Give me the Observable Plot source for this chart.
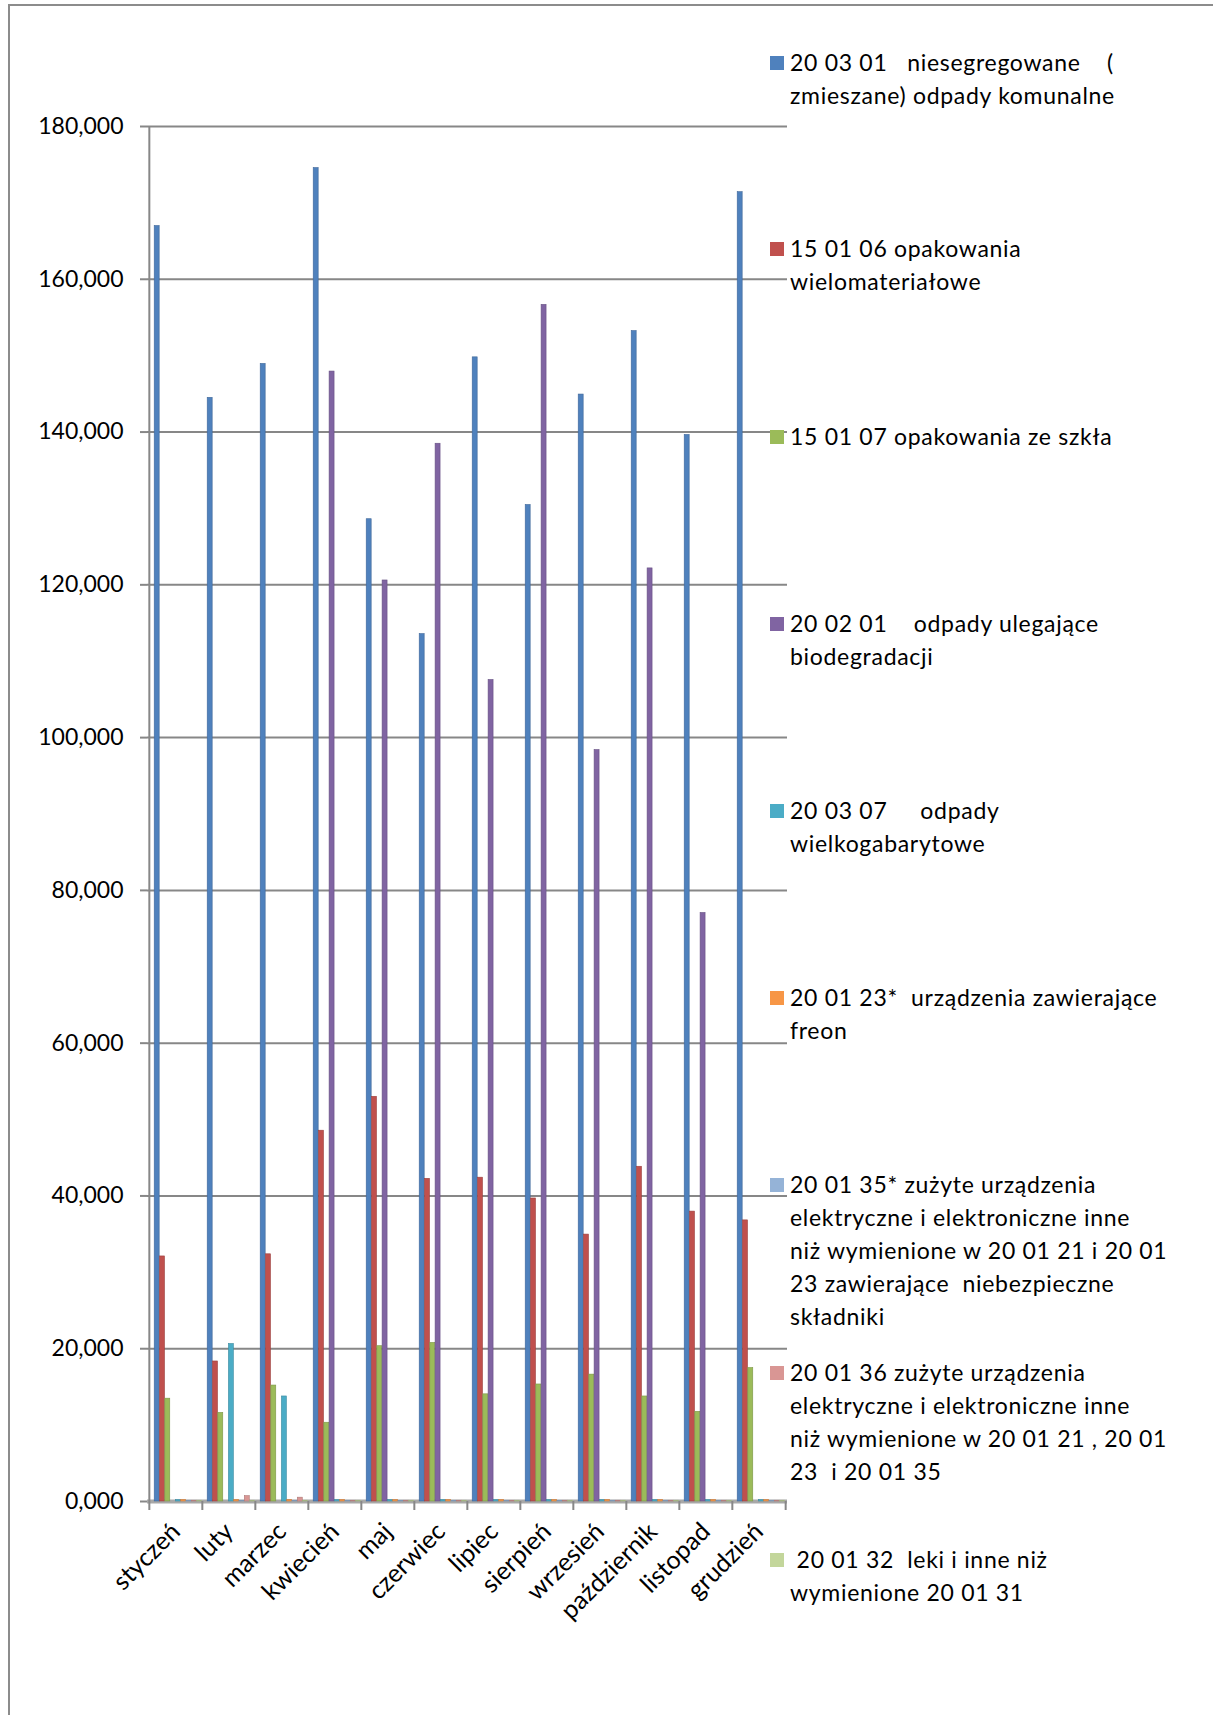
<!DOCTYPE html>
<html>
<head>
<meta charset="utf-8">
<script src="https://cdn.jsdelivr.net/npm/d3@7"></script>
<script src="https://cdn.jsdelivr.net/npm/@observablehq/plot@0.6"></script>
<style>
  html, body { margin: 0; padding: 0; background: #fff; }
  #page { position: relative; width: 1213px; height: 1715px; overflow: hidden; background: #fff; }
  #frame { position: absolute; left: 8px; top: 4px; width: 1300px; height: 1800px;
           border-left: 2px solid #8c8c8c; border-top: 2px solid #8c8c8c; }
  #chart { position: absolute; left: 0; top: 0; }
  #legend { position: absolute; left: 0; top: 0; font-family: Lato, "Open Sans", sans-serif;
            font-size: 23px; letter-spacing: 0.7px; line-height: 33px; color: #000; }
  .entry { position: absolute; left: 770px; white-space: pre; }
  .sw { position: absolute; left: 0; top: 10px; width: 14px; height: 14px; }
  .txt { position: absolute; left: 20px; top: 0; }
</style>
</head>
<body>
<div id="page">
  <div id="frame"></div>
  <div id="chart"></div>
  <div id="legend"></div>
</div>
<script>
// ---- data (values in Mg) ----
const months = ["styczeń","luty","marzec","kwiecień","maj","czerwiec","lipiec","sierpień","wrzesień","październik","listopad","grudzień"];

const seriesNames = [
  "20 03 01   niesegregowane    (\nzmieszane) odpady komunalne",
  "15 01 06 opakowania\nwielomateriałowe",
  "15 01 07 opakowania ze szkła",
  "20 02 01    odpady ulegające\nbiodegradacji",
  "20 03 07     odpady\nwielkogabarytowe",
  "20 01 23*  urządzenia zawierające\nfreon",
  "20 01 35* zużyte urządzenia\nelektryczne i elektroniczne inne\nniż wymienione w 20 01 21 i 20 01\n23 zawierające  niebezpieczne\nskładniki",
  "20 01 36 zużyte urządzenia\nelektryczne i elektroniczne inne\nniż wymienione w 20 01 21 , 20 01\n23  i 20 01 35",
  " 20 01 32  leki i inne niż\nwymienione 20 01 31"
];

const seriesColors = ["#4F81BD","#C0504D","#9BBB59","#8064A2","#4BACC6","#F79646","#95B3D7","#D99694","#C3D69B"];

const s200301 = [166.97, 144.48, 148.92, 174.56, 128.59, 113.55, 149.78, 130.45, 144.91, 153.22, 139.62, 171.40];
const s150106 = [32.08, 18.33, 32.36, 48.54, 52.98, 42.24, 42.39, 39.67, 34.94, 43.82, 37.95, 36.80];
const s150107 = [13.46, 11.60, 15.18, 10.31, 20.33, 20.76, 14.03, 15.32, 16.61, 13.75, 11.74, 17.47];
const s200201 = [0, 0, 0, 147.92, 120.57, 138.47, 107.54, 156.65, 98.37, 122.15, 77.04, 0];
const s200307 = [0.2, 20.62, 13.75, 0.2, 0.2, 0.2, 0.2, 0.2, 0.2, 0.2, 0.2, 0.2];
const s200123 = [0.2, 0.2, 0.2, 0.2, 0.2, 0.2, 0.2, 0.2, 0.2, 0.2, 0.2, 0.2];
const s200135 = [0.1, 0.1, 0.1, 0.1, 0.1, 0.1, 0.1, 0.1, 0.1, 0.1, 0.1, 0.1];
const s200136 = [0.1, 0.7, 0.5, 0.1, 0.1, 0.1, 0.1, 0.1, 0.1, 0.1, 0.1, 0.1];
const s200132 = [0.1, 0.1, 0.1, 0.1, 0.1, 0.1, 0.1, 0.1, 0.1, 0.1, 0.1, 0.1];

const seriesValues = [s200301, s150106, s150107, s200201, s200307, s200123, s200135, s200136, s200132];

const yTicks = [0, 20, 40, 60, 80, 100, 120, 140, 160, 180];

// ---- layout ----
const W = 1213, H = 1715;
const plotLeft = 147, plotRight = 787, plotTop = 126, plotBottom = 1501;
const bw = (plotRight - plotLeft) / months.length;
const groupLeft = 5.2, barW = 5.3;
const gridColor = "#878787";

const table = [];
seriesValues.forEach((vals, si) => vals.forEach((v, mi) => table.push({series: si, month: months[mi], value: v})));

const fmt = d => d.toFixed(3).replace(".", ",");

const barMarks = seriesValues.map((_, si) =>
  Plot.barY(table.filter(d => d.series === si), {
    x: "month", y: "value", fill: seriesColors[si],
    stroke: d3.color(seriesColors[si]).darker(0.6).formatHex(), strokeWidth: 0.6,
    insetLeft: groupLeft + si * barW,
    insetRight: bw - groupLeft - (si + 1) * barW
  })
);

const chart = Plot.plot({
  width: W, height: H,
  marginLeft: plotLeft, marginRight: W - plotRight, marginTop: plotTop, marginBottom: H - plotBottom,
  x: {domain: months, padding: 0, label: null},
  y: {domain: [0, 180], label: null},
  style: {fontFamily: "Lato, 'Open Sans', sans-serif", fontSize: "23px", color: "#000", background: "transparent", overflow: "visible"},
  marks: [
    Plot.gridY(yTicks, {stroke: gridColor, strokeOpacity: 1, strokeWidth: 2}),
    Plot.ruleY([0], {stroke: "#a8a8a8", strokeWidth: 4}),
    ...barMarks,
    Plot.ruleX([months[0]], {y1: 0, y2: 180, dx: -bw / 2, stroke: gridColor, strokeWidth: 2}),
    Plot.axisY(yTicks, {tickSize: 7, tickPadding: 17, tickFormat: fmt, stroke: gridColor, strokeWidth: 2, fill: "#000", fontSize: 23}),
    Plot.axisX({tickSize: 0, tickRotate: -45, tickPadding: 26, fill: "#000", fontSize: 25}),
    Plot.axisX({text: null, tickSize: 9, dx: -bw / 2, stroke: gridColor, strokeWidth: 2}),
    Plot.axisX([months[months.length - 1]], {text: null, tickSize: 9, dx: bw / 2, stroke: gridColor, strokeWidth: 2})
  ]
});
document.getElementById("chart").appendChild(chart);

// ---- legend (HTML) ----
const legendFirstLineCenters = [62, 248, 436, 623, 810, 997, 1184, 1372, 1559];
const legend = document.getElementById("legend");
seriesNames.forEach((name, i) => {
  const e = document.createElement("div");
  e.className = "entry";
  e.style.top = (legendFirstLineCenters[i] - 16.5) + "px";
  const sw = document.createElement("div");
  sw.className = "sw";
  sw.style.background = seriesColors[i];
  const t = document.createElement("div");
  t.className = "txt";
  t.textContent = name;
  e.appendChild(sw); e.appendChild(t);
  legend.appendChild(e);
});
</script>
</body>
</html>
